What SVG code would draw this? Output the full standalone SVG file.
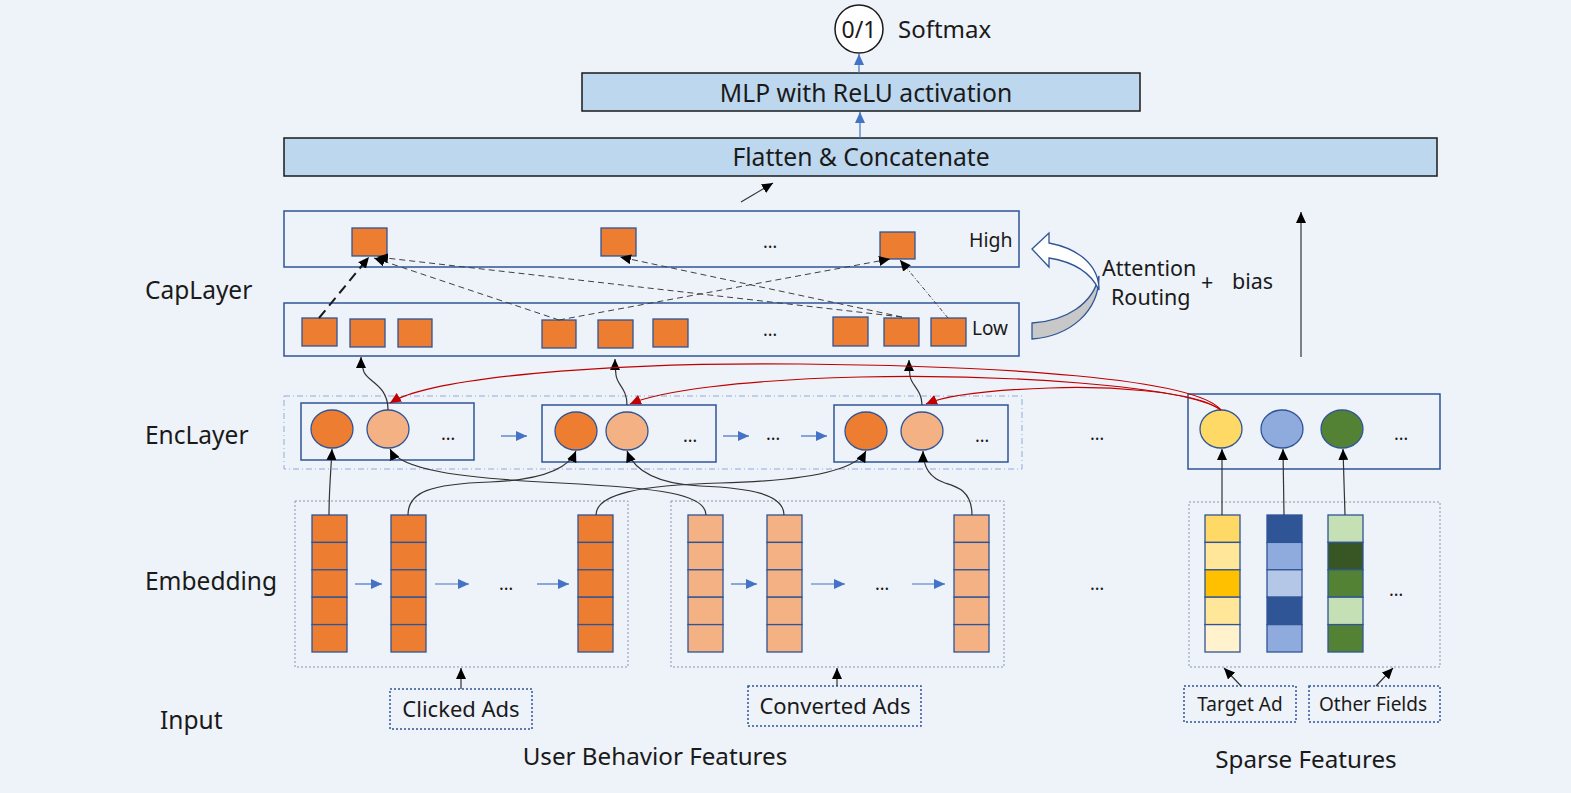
<svg xmlns="http://www.w3.org/2000/svg" xmlns:xlink="http://www.w3.org/1999/xlink" width="1571" height="793" viewBox="0 0 1571 793">
<style>
text{font-family:"Noto Sans","Open Sans","Liberation Sans",sans-serif;fill:#1a1a1a}
.bar{fill:#BDD7EE;stroke:#1a1a1a;stroke-width:1.5}
.cap{fill:none;stroke:#2F5597;stroke-width:1.5}
.sq{fill:#ED7D31;stroke:#2F5597;stroke-width:1.3}
.o{fill:#ED7D31;stroke:#2F5597;stroke-width:1.3}
.lo{fill:#F4B183;stroke:#2F5597;stroke-width:1.3}
.embox{fill:none;stroke:#8497B0;stroke-width:1;stroke-dasharray:2 2}
.inbox{fill:none;stroke:#2F5597;stroke-width:1.5;stroke-dasharray:2 2}
.k{fill:none;stroke:#333;stroke-width:1.2}
.r{fill:none;stroke:#C00000;stroke-width:1.2}
.bl{fill:none;stroke:#4472C4;stroke-width:1.2}
.d{fill:none;stroke:#404040;stroke-width:1;stroke-dasharray:6 4}
</style>
<defs>
<marker id="ak" markerUnits="userSpaceOnUse" markerWidth="12" markerHeight="10" refX="11" refY="5" orient="auto"><path d="M0,0 L11,5 L0,10 z" fill="#000"/></marker>
<marker id="ar" markerUnits="userSpaceOnUse" markerWidth="12" markerHeight="10" refX="11" refY="5" orient="auto"><path d="M0,0 L11,5 L0,10 z" fill="#C00000"/></marker>
<marker id="ab" markerUnits="userSpaceOnUse" markerWidth="12" markerHeight="10" refX="11" refY="5" orient="auto"><path d="M0,0 L11,5 L0,10 z" fill="#4472C4"/></marker>
<g id="colO">
<rect class="o" x="0" y="0" width="35" height="27.4"/><rect class="o" x="0" y="27.4" width="35" height="27.4"/><rect class="o" x="0" y="54.8" width="35" height="27.4"/><rect class="o" x="0" y="82.2" width="35" height="27.4"/><rect class="o" x="0" y="109.6" width="35" height="27.4"/>
</g>
<g id="colL">
<rect class="lo" x="0" y="0" width="35" height="27.4"/><rect class="lo" x="0" y="27.4" width="35" height="27.4"/><rect class="lo" x="0" y="54.8" width="35" height="27.4"/><rect class="lo" x="0" y="82.2" width="35" height="27.4"/><rect class="lo" x="0" y="109.6" width="35" height="27.4"/>
</g>
</defs>
<rect width="1571" height="793" fill="#EEF2F9"/>

<!-- layer labels -->
<g id="labels" font-size="24.5">
<text x="145" y="299">CapLayer</text>
<text x="145" y="444">EncLayer</text>
<text x="145" y="590">Embedding</text>
<text x="160" y="729">Input</text>
<text x="655" y="765" text-anchor="middle" font-size="24.2">User Behavior Features</text>
<text x="1306" y="768" text-anchor="middle" font-size="24.2">Sparse Features</text>
</g>

<g id="softmax">
<circle cx="859" cy="29" r="24" fill="#fff" stroke="#1a1a1a" stroke-width="1.5"/>
<text x="859" y="38" text-anchor="middle" font-size="23">0/1</text>
<text x="898" y="38" font-size="24">Softmax</text>
</g>
<g id="mlp">
<rect class="bar" x="582" y="73" width="558" height="38"/>
<text x="866" y="102" text-anchor="middle" font-size="24.7">MLP with ReLU activation</text>
</g>
<g id="flatten">
<rect class="bar" x="284" y="138" width="1153" height="38"/>
<text x="861" y="166" text-anchor="middle" font-size="24.7">Flatten &amp; Concatenate</text>
</g>

<g id="caplayer-high">
<rect class="cap" x="284" y="211" width="735" height="56"/>
<rect class="sq" x="352" y="228" width="35" height="28"/>
<rect class="sq" x="601" y="228" width="35" height="28"/>
<rect class="sq" x="880" y="232" width="35" height="27"/>
<text x="770" y="248" text-anchor="middle" font-size="18">…</text>
<text x="969" y="247" font-size="19.5">High</text>
</g>
<g id="caplayer-low">
<rect class="cap" x="284" y="303" width="735" height="53"/>
<rect class="sq" x="302" y="318" width="35" height="28"/>
<rect class="sq" x="350" y="319" width="35" height="28"/>
<rect class="sq" x="398" y="319" width="34" height="28"/>
<rect class="sq" x="542" y="320" width="34" height="28"/>
<rect class="sq" x="598" y="320" width="35" height="28"/>
<rect class="sq" x="653" y="319" width="35" height="28"/>
<rect class="sq" x="833" y="317" width="35" height="29"/>
<rect class="sq" x="884" y="318" width="35" height="28"/>
<rect class="sq" x="931" y="318" width="35" height="28"/>
<text x="770" y="336" text-anchor="middle" font-size="18">…</text>
<text x="972" y="335" font-size="19">Low</text>
</g>

<g id="attention-routing">
<path d="M1099,276 C1099,312 1070,336 1032,339 L1032,323 C1066,321 1093,304 1099,276 Z" fill="#C8C8C8" stroke="#2F5597" stroke-width="1.3"/>
<path d="M1032,249 L1049,233 L1049,243 C1080,249 1099,266 1099,290 C1091,273 1074,262 1049,258 L1049,267 Z" fill="#fff" stroke="#2F5597" stroke-width="1.3"/>
<text x="1102" y="276" font-size="21.5">Attention</text>
<text x="1111" y="305" font-size="21.5">Routing</text>
<text x="1201" y="290" font-size="21.5">+</text>
<text x="1232" y="289" font-size="21.5">bias</text>
</g>

<g id="enclayer">
<rect x="284" y="396" width="738" height="73" fill="none" stroke="#8FAADC" stroke-width="1" stroke-dasharray="6 3 1 3"/>
<rect class="cap" x="301" y="403" width="173" height="57"/>
<ellipse class="o" cx="332" cy="429" rx="21" ry="19"/>
<ellipse class="lo" cx="388" cy="429" rx="21" ry="19"/>
<text x="448" y="440" text-anchor="middle" font-size="18">…</text>
<rect class="cap" x="542" y="405" width="174" height="57"/>
<ellipse class="o" cx="576" cy="431" rx="21" ry="19"/>
<ellipse class="lo" cx="627" cy="431" rx="21" ry="19"/>
<text x="690" y="442" text-anchor="middle" font-size="18">…</text>
<text x="773" y="440" text-anchor="middle" font-size="18">…</text>
<rect class="cap" x="834" y="405" width="174" height="57"/>
<ellipse class="o" cx="866" cy="431" rx="21" ry="19"/>
<ellipse class="lo" cx="922" cy="431" rx="21" ry="19"/>
<text x="982" y="442" text-anchor="middle" font-size="18">…</text>
</g>
<g id="sparse-enc">
<rect class="cap" x="1188" y="394" width="252" height="75"/>
<ellipse cx="1221" cy="429" rx="21" ry="19" fill="#FFD966" stroke="#2F5597" stroke-width="1.3"/>
<ellipse cx="1282" cy="429" rx="21" ry="19" fill="#8FAADC" stroke="#2F5597" stroke-width="1.3"/>
<ellipse cx="1342" cy="429" rx="21" ry="19" fill="#548235" stroke="#2F5597" stroke-width="1.3"/>
<text x="1401" y="440" text-anchor="middle" font-size="18">…</text>
</g>
<text x="1097" y="440" text-anchor="middle" font-size="18">…</text>

<g id="emb-clicked">
<rect class="embox" x="295" y="501" width="333" height="166"/>
<use xlink:href="#colO" href="#colO" x="312" y="515"/>
<use xlink:href="#colO" href="#colO" x="391" y="515"/>
<use xlink:href="#colO" href="#colO" x="578" y="515"/>
<text x="506" y="590" text-anchor="middle" font-size="18">…</text>
</g>
<g id="emb-converted">
<rect class="embox" x="671" y="501" width="333" height="166"/>
<use xlink:href="#colL" href="#colL" x="688" y="515"/>
<use xlink:href="#colL" href="#colL" x="767" y="515"/>
<use xlink:href="#colL" href="#colL" x="954" y="515"/>
<text x="882" y="590" text-anchor="middle" font-size="18">…</text>
</g>
<text x="1097" y="590" text-anchor="middle" font-size="18">…</text>
<g id="emb-sparse" stroke="#2F5597" stroke-width="1.3">
<rect class="embox" x="1189" y="502" width="251" height="165"/>
<rect x="1205" y="515" width="35" height="27.4" fill="#FFD966"/><rect x="1205" y="542.4" width="35" height="27.4" fill="#FFE699"/><rect x="1205" y="569.8" width="35" height="27.4" fill="#FFC000"/><rect x="1205" y="597.2" width="35" height="27.4" fill="#FFE699"/><rect x="1205" y="624.6" width="35" height="27.4" fill="#FFF2CC"/>
<rect x="1267" y="515" width="35" height="27.4" fill="#2F5597"/><rect x="1267" y="542.4" width="35" height="27.4" fill="#8FAADC"/><rect x="1267" y="569.8" width="35" height="27.4" fill="#B4C7E7"/><rect x="1267" y="597.2" width="35" height="27.4" fill="#2F5597"/><rect x="1267" y="624.6" width="35" height="27.4" fill="#8FAADC"/>
<rect x="1328" y="515" width="35" height="27.4" fill="#C5E0B4"/><rect x="1328" y="542.4" width="35" height="27.4" fill="#375623"/><rect x="1328" y="569.8" width="35" height="27.4" fill="#548235"/><rect x="1328" y="597.2" width="35" height="27.4" fill="#C5E0B4"/><rect x="1328" y="624.6" width="35" height="27.4" fill="#548235"/>
<text x="1396" y="596" text-anchor="middle" font-size="18" stroke="none">…</text>
</g>

<g id="input-clicked"><rect class="inbox" x="390" y="689" width="142" height="40"/><text x="461" y="717" text-anchor="middle" font-size="22">Clicked Ads</text></g>
<g id="input-converted"><rect class="inbox" x="748" y="686" width="173" height="40"/><text x="835" y="714" text-anchor="middle" font-size="22">Converted Ads</text></g>
<g id="input-target"><rect class="inbox" x="1184" y="686" width="112" height="36"/><text x="1240" y="711" text-anchor="middle" font-size="19">Target Ad</text></g>
<g id="input-other"><rect class="inbox" x="1309" y="686" width="131" height="36"/><text x="1373" y="711" text-anchor="middle" font-size="19">Other Fields</text></g>

<g id="connectors">
<!-- top -->
<line class="bl" x1="859" y1="73" x2="859" y2="54" marker-end="url(#ab)"/>
<line class="bl" x1="860" y1="138" x2="860" y2="112" marker-end="url(#ab)"/>
<line class="k" x1="741" y1="202" x2="773" y2="183" marker-end="url(#ak)"/>
<line class="k" x1="1301" y1="357" x2="1301" y2="212" marker-end="url(#ak)"/>
<!-- capsule routing -->
<line x1="319" y1="318" x2="369" y2="257" fill="none" stroke="#1a1a1a" stroke-width="2" stroke-dasharray="10 6" marker-end="url(#ak)"/>
<line class="d" x1="559" y1="320" x2="374" y2="258" marker-end="url(#ak)"/>
<line class="d" x1="559" y1="320" x2="890" y2="259" marker-end="url(#ak)"/>
<line class="d" x1="902" y1="317" x2="377" y2="257" marker-end="url(#ak)"/>
<line class="d" x1="902" y1="317" x2="620" y2="257" marker-end="url(#ak)"/>
<line x1="948" y1="318" x2="900" y2="260" fill="none" stroke="#404040" stroke-width="1" stroke-dasharray="4 2 1 2" marker-end="url(#ak)"/>
<!-- enc to caplayer -->
<path class="k" d="M388,410 C388,385 368,382 364,372 C362,366 361,362 361,357" marker-end="url(#ak)"/>
<path class="k" d="M627,405 C627,388 617,385 616,375 C615,368 615,363 615,359" marker-end="url(#ak)"/>
<path class="k" d="M922,405 C922,390 911,385 910,376 C909,369 909,364 909,360" marker-end="url(#ak)"/>
<!-- red target attention -->
<path class="r" d="M1221,410 C1195,378 1000,366 800,364 C600,362 430,378 390,403" marker-end="url(#ar)"/>
<path class="r" d="M1221,410 C1185,385 1000,374 860,377 C740,380 660,391 630,404" marker-end="url(#ar)"/>
<path class="r" d="M1221,410 C1195,390 1100,386 1050,388 C990,390 945,396 926,404" marker-end="url(#ar)"/>
<!-- horizontal blue -->
<line class="bl" x1="501" y1="436" x2="527" y2="436" marker-end="url(#ab)"/>
<line class="bl" x1="723" y1="436" x2="749" y2="436" marker-end="url(#ab)"/>
<line class="bl" x1="801" y1="436" x2="827" y2="436" marker-end="url(#ab)"/>
<line class="bl" x1="355" y1="584" x2="382" y2="584" marker-end="url(#ab)"/>
<line class="bl" x1="435" y1="584" x2="469" y2="584" marker-end="url(#ab)"/>
<line class="bl" x1="537" y1="584" x2="569" y2="584" marker-end="url(#ab)"/>
<line class="bl" x1="731" y1="584" x2="757" y2="584" marker-end="url(#ab)"/>
<line class="bl" x1="811" y1="584" x2="845" y2="584" marker-end="url(#ab)"/>
<line class="bl" x1="912" y1="584" x2="945" y2="584" marker-end="url(#ab)"/>
<!-- embedding to enc -->
<path class="k" d="M329,515 C329,490 331,470 332,449" marker-end="url(#ak)"/>
<path class="k" d="M408,515 C408,492 430,484 490,482 C540,480 568,470 576,451" marker-end="url(#ak)"/>
<path class="k" d="M706,515 C706,494 660,488 560,483 C460,478 400,470 390,449" marker-end="url(#ak)"/>
<path class="k" d="M596,515 C596,494 640,485 720,483 C800,481 855,472 866,451" marker-end="url(#ak)"/>
<path class="k" d="M784,515 C784,494 750,488 700,486 C660,484 635,472 627,451" marker-end="url(#ak)"/>
<path class="k" d="M972,515 C972,490 955,486 945,483 C930,478 923,468 923,451" marker-end="url(#ak)"/>
<line class="k" x1="1222" y1="515" x2="1222" y2="449" marker-end="url(#ak)"/>
<line class="k" x1="1284" y1="515" x2="1283" y2="449" marker-end="url(#ak)"/>
<line class="k" x1="1345" y1="515" x2="1343" y2="449" marker-end="url(#ak)"/>
<!-- inputs -->
<line class="k" x1="461" y1="689" x2="461" y2="668" marker-end="url(#ak)"/>
<line class="k" x1="837" y1="686" x2="837" y2="668" marker-end="url(#ak)"/>
<line class="k" x1="1241" y1="686" x2="1224" y2="668" marker-end="url(#ak)"/>
<line class="k" x1="1376" y1="686" x2="1393" y2="668" marker-end="url(#ak)"/>
</g>
</svg>
